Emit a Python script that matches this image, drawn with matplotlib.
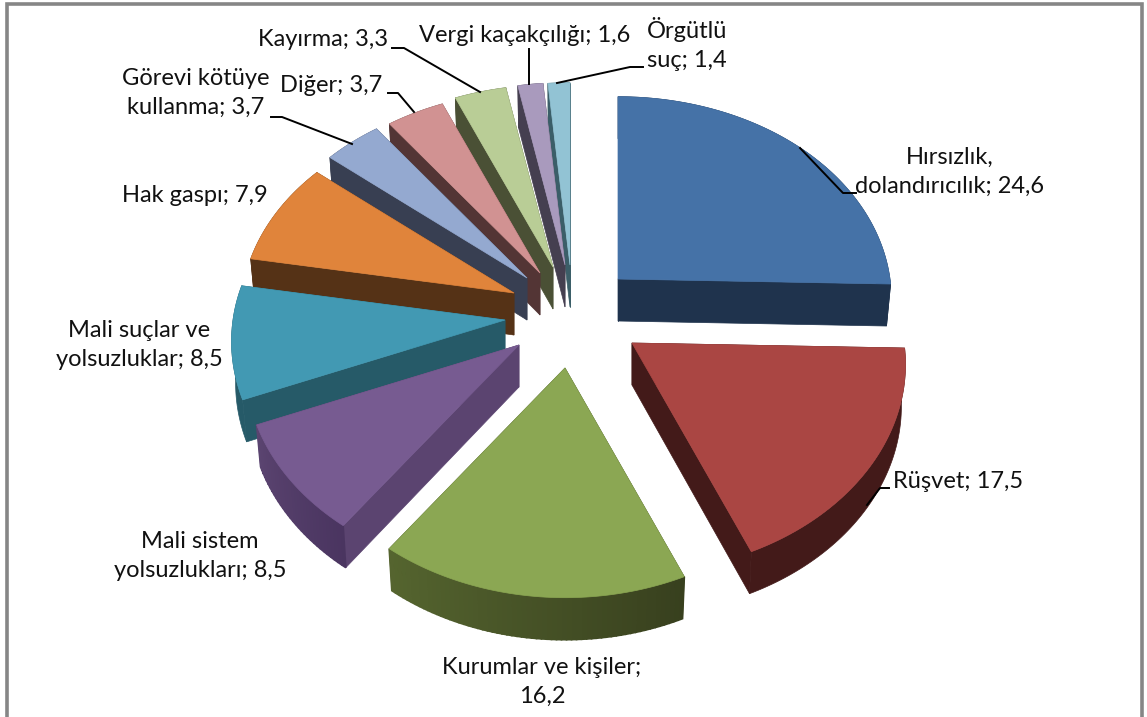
#3D exploded pie of reported corruption types
#python3

import numpy as np
import matplotlib
matplotlib.use('Agg')
import matplotlib.pyplot as plt
from matplotlib.colors import to_rgb

VALUES = [24.6, 17.5, 16.2, 8.5, 8.5, 7.9, 3.7, 3.7, 3.3, 1.6, 1.4]
LABELS = ['Hırsızlık,\ndolandırıcılık; 24,6', 'Rüşvet; 17,5', 'Kurumlar ve kişiler;\n16,2',
          'Mali sistem\nyolsuzlukları; 8,5', 'Mali suçlar ve\nyolsuzluklar; 8,5', 'Hak gaspı; 7,9',
          'Görevi kötüye\nkullanma; 3,7', 'Diğer; 3,7', 'Kayırma; 3,3', 'Vergi kaçakçılığı; 1,6',
          'Örgütlü\nsuç; 1,4']

TOP_COLORS = ['#4572a7', '#aa4643', '#8ba753', '#775b91', '#4299b3', '#e0843b',
              '#94a9d0', '#d19292', '#b9cd96', '#a99abd', '#92c3d4']
SIDE_COLORS = ['#1f334d', '#431a19', '#38401e', '#5b4470', '#265a68', '#553216',
               '#383f52', '#533535', '#4a5035', '#453f50', '#3b5e68']
STRIP_END = ['#1f334d', '#431a19', '#55652f', '#5b4470', '#265a68', '#553216',
             '#383f52', '#533535', '#4a5035', '#453f50', '#3b5e68']
STRIP_START = ['#1f334d', '#431a19', '#38401e', '#4a3560', '#265a68', '#553216',
               '#383f52', '#533535', '#4a5035', '#453f50', '#3b5e68']

# layout, all in pixels of the 1147x717 picture
CENTER = (565, 310)
EXPLODE_X = [53, 67, 0, -46, -60, -51, -38, -25, -12, 0, 5]
EXPLODE_Y = [-31, 33, 58, 35, 10, -17, -32, -37, -43, -45, -45]
RX, RY, DEPTH = 272, 206, 42
DRAW_ORDER = [10, 9, 8, 7, 6, 5, 4, 3, 0, 1, 2]

LABEL_X = [950, 958, 542, 200, 139, 195, 196, 331, 323, 525, 687]
LABEL_Y = [172, 481, 682, 556, 345, 195, 93, 86, 40, 36, 44]
LEADERS = [[(800, 148), (843, 193), (856, 193)],
           [(889, 488), (880, 488), (867, 505)],
           None, None, None, None,
           [(271, 117), (282, 117), (352, 144)],
           [(388, 93), (398, 93), (414, 112)],
           [(392, 48), (404, 48), (480, 92)],
           [(529, 49), (529, 84)],
           [(643, 67), (630, 67), (557, 83)]]


def project(theta, ax0, ay0):
    # slight perspective, the near side of the disc is drawn larger
    f = -np.cos(theta)
    x = ax0 + RX * (1 + 0.105 * f) * np.sin(theta)
    y = ay0 + RY * (1 + 0.115 * f) * f
    return x, y


fig = plt.figure(figsize=(11.47, 7.17), dpi=100)
ax = fig.add_axes([0, 0, 1, 1])
ax.set_xlim(0, 1147)
ax.set_ylim(717, 0)
ax.axis('off')

fractions = np.array(VALUES) / sum(VALUES)
edges = np.concatenate([[0], np.cumsum(fractions)]) * 2 * np.pi

for i in DRAW_ORDER:
    ax0 = CENTER[0] + EXPLODE_X[i]
    ay0 = CENTER[1] + EXPLODE_Y[i]
    n = max(int((edges[i + 1] - edges[i]) * 60), 4)
    thetas = np.linspace(edges[i], edges[i + 1], n)
    xs, ys = project(thetas, ax0, ay0)
    # bottom rim sits a little further away
    xb = ax0 + (xs - ax0) * 0.985
    yb = ys + DEPTH

    # cut faces
    for k in [0, -1]:
        ax.fill([ax0, xs[k], xb[k], ax0], [ay0, ys[k], yb[k], ay0 + DEPTH],
                color=SIDE_COLORS[i], lw=0.5)
    # outer wall, shaded along the arc
    if STRIP_START[i] == STRIP_END[i]:
        ax.fill(np.r_[xs, xb[::-1]], np.r_[ys, yb[::-1]], color=STRIP_START[i], lw=0.5)
    else:
        c0 = np.array(to_rgb(STRIP_START[i]))
        c1 = np.array(to_rgb(STRIP_END[i]))
        for k in range(n - 1):
            col = c0 + (c1 - c0) * k / (n - 1)
            ax.fill([xs[k], xs[k + 1], xb[k + 1], xb[k]],
                    [ys[k], ys[k + 1], yb[k + 1], yb[k]], color=col, lw=1.2)
    # top face
    ax.fill(np.r_[ax0, xs], np.r_[ay0, ys], color=TOP_COLORS[i], lw=0.5)

for i, label in enumerate(LABELS):
    ax.text(LABEL_X[i], LABEL_Y[i], label, ha='center', va='center', family='Lato',
            fontsize=17, color='#111111', linespacing=1.5)
    if LEADERS[i] is not None:
        ax.plot([p[0] for p in LEADERS[i]], [p[1] for p in LEADERS[i]], color='black', lw=1.4)

# outer frame, bottom side is cut off in the source
ax.plot([6.5, 6.5, 1142, 1142], [717, 3.5, 3.5, 717], color='#868686', lw=2.6, solid_joinstyle='miter')

fig.savefig('out.png', dpi=100)
